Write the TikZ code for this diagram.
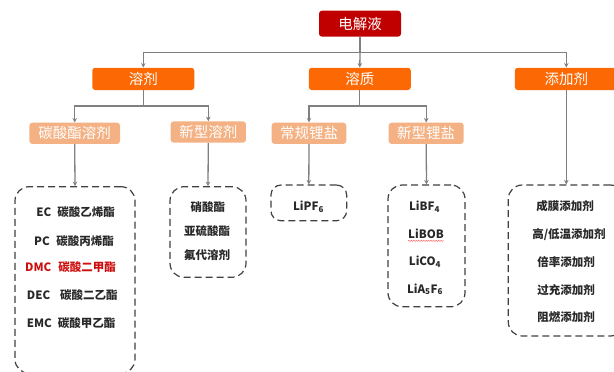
\documentclass[tikz,border=0pt]{standalone}
\usepackage{fontspec}
\setmainfont{Noto Sans CJK SC}
\usetikzlibrary{arrows.meta,decorations.pathmorphing}
\definecolor{rootred}{RGB}{192,0,0}
\definecolor{lvlone}{RGB}{252,104,4}
\definecolor{lvltwo}{RGB}{244,177,131}
\definecolor{linegray}{RGB}{128,128,128}
\definecolor{dashgray}{RGB}{64,64,64}
\definecolor{dmcred}{RGB}{204,16,16}
\definecolor{txtdark}{RGB}{40,40,40}
\tikzset{
  boxbase/.style={rounded corners=3pt, inner sep=0pt, text=white, font=\fontsize{14.5}{17}\selectfont},
  rootbox/.style={boxbase, fill=rootred, minimum width=82pt, minimum height=26pt},
  onebox/.style={boxbase, fill=lvlone, minimum width=102pt, minimum height=22.3pt},
  twobox/.style={boxbase, fill=lvltwo, minimum height=21.3pt},
  dbox/.style={draw=dashgray, line width=1.2pt, dash pattern=on 7pt off 4pt, rounded corners=14pt, inner sep=0pt},
  item/.style={inner sep=0pt, text=txtdark, font=\fontsize{11.5}{14}\selectfont\bfseries},
  arr/.style={draw=linegray, line width=1.3pt, -{Stealth[length=4.5pt,width=4.5pt]}},
}
\begin{document}
\begin{tikzpicture}[x=1pt,y=-1pt]
\useasboundingbox (0,0) rectangle (614,372);
% level 0 / 1 / 2
\node[rootbox] (root) at (360,23.7) {电解液};
\node[onebox] (solv) at (143.3,78.9) {溶剂};
\node[onebox] (solu) at (359.8,78.9) {溶质};
\node[onebox, minimum width=103pt] (addi) at (566.3,78.9) {添加剂};
\node[twobox, minimum width=90.7pt] (carb) at (74.7,133.3) {碳酸酯溶剂};
\node[twobox, minimum width=75.3pt] (nsol) at (208.3,132) {新型溶剂};
\node[twobox, minimum width=74.6pt] (conv) at (309,133.3) {常规锂盐};
\node[twobox, minimum width=75pt] (nsalt) at (426.2,133.3) {新型锂盐};
% dashed boxes
\node[dbox, minimum width=120pt, minimum height=186.6pt] (carbbox) at (75,280) {};
\node[dbox, minimum width=76pt, minimum height=90.6pt] (nsolbox) at (208,232) {};
\node[dbox, rounded corners=10pt, minimum width=75.7pt, minimum height=35.7pt] (convbox) at (308.8,202.9) {};
\node[dbox, minimum width=77pt, minimum height=121.7pt] (nsaltbox) at (426.5,245.9) {};
\node[dbox, minimum width=116pt, minimum height=151pt] (addbox) at (566.3,260.5) {};
% junction levels
\coordinate (ja) at (0,52.3);
\coordinate (jb) at (0,106);
% connectors
\draw[arr] (root.south) -- (root.south |- ja) -| (solv.north);
\draw[arr] (root.south |- ja) -- (solu.north);
\draw[arr] (root.south |- ja) -| (addi.north);
\draw[arr] (solv.south) -- (solv.south |- jb) -| (carb.north);
\draw[arr] (solv.south |- jb) -| (nsol.north);
\draw[arr] (solu.south) -- (solu.south |- jb) -| (conv.north);
\draw[arr] (solu.south |- jb) -| (nsalt.north);
\draw[arr] (carb.south) -- (carbbox.north);
\draw[arr] (nsol.south) -- (nsolbox.north);
\draw[arr] (conv.south) -- (convbox.north);
\draw[arr] (nsalt.south) -- (nsaltbox.north);
\draw[arr] (addi.south) -- (addbox.north);
% carbonate items
\node[item, anchor=west] (ec) at (36.2,212.3) {EC\hspace{6pt}碳酸乙烯酯};
\node[item, anchor=west] (pc) at (34,240.7) {PC\hspace{6.5pt}碳酸丙烯酯};
\node[item, anchor=west, text=dmcred] (dmc) at (25,267.3) {DMC\hspace{7pt}碳酸二甲酯};
\node[item, anchor=west] (dec) at (26.7,295) {DEC\hspace{10pt}碳酸二乙酯};
\node[item, anchor=west] (emc) at (26.7,323.3) {EMC\hspace{6pt}碳酸甲乙酯};
% new solvents
\node[item] (ns1) at (207.8,206.7) {硝酸酯};
\node[item] (ns2) at (207.2,230.7) {亚硫酸酯};
\node[item] (ns3) at (207.2,255) {氟代溶剂};
% conventional salt
\node[item] (lipf) at (308.5,206.7) {LiPF\textsubscript{6}};
% new salts
\node[item] (libf) at (424.5,206.7) {LiBF\textsubscript{4}};
\node[item] (libob) at (426,234) {LiBOB};
\node[item] (lico) at (425,261.7) {LiCO\textsubscript{4}};
\node[item] (lias) at (425,289.3) {LiA\textsubscript{5}F\textsubscript{6}};
\coordinate (ul1) at ([yshift=-1.8pt]libob.south west);
\coordinate (ul2) at ([yshift=-1.8pt]libob.south east);
\draw[red!60, line width=0.5pt, decorate, decoration={snake, amplitude=0.5pt, segment length=2.5pt}] (ul1) -- (ul2);
% additives
\node[item] (ad1) at (565,206) {成膜添加剂};
\node[item] (ad2) at (569,234.3) {高/低温添加剂};
\node[item] (ad3) at (566,261.7) {倍率添加剂};
\node[item] (ad4) at (566,290) {过充添加剂};
\node[item] (ad5) at (566,317.3) {阻燃添加剂};
\end{tikzpicture}
\end{document}
